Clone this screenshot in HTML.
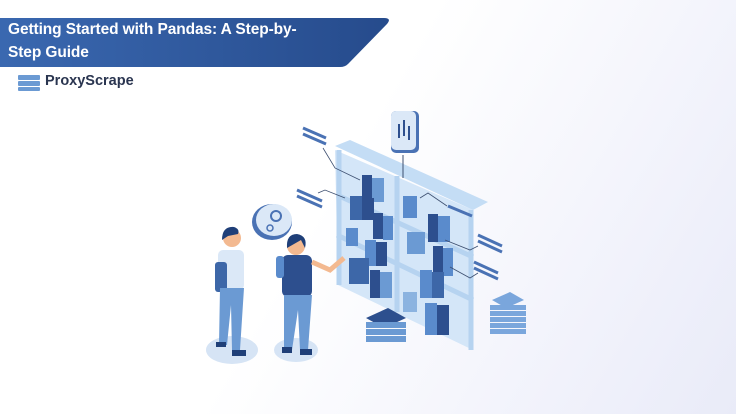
<!DOCTYPE html>
<html><head><meta charset="utf-8"><style>
html,body{margin:0;padding:0}
body{width:736px;height:414px;overflow:hidden;position:relative;font-family:"Liberation Sans",sans-serif;background:linear-gradient(120deg,#ffffff 0%,#ffffff 45%,#f1f2fb 80%,#e9ebf8 100%)}
.t{position:absolute;left:8px;color:#fff;font-weight:bold;font-size:15.5px;letter-spacing:-0.1px}
.logo{position:absolute;left:45px;top:73px;font-weight:bold;font-size:14.5px;color:#2a3550}
</style></head><body>
<svg width="736" height="414" style="position:absolute;left:0;top:0">
<defs><linearGradient id="b" x1="0" x2="1"><stop offset="0" stop-color="#3a68b0"/><stop offset="1" stop-color="#264b8c"/></linearGradient></defs>
<path d="M0 18 H384 Q392 18 387 24 L348 64 Q345 67 340 67 H0Z" fill="url(#b)"/>
<g fill="#6b9ad3"><rect x="18" y="75" width="22" height="5" rx="1"/><rect x="18" y="81" width="22" height="5" rx="1"/><rect x="18" y="87" width="22" height="4" rx="1"/></g>
<ellipse cx="232" cy="350" rx="26" ry="14" fill="#d6e4f5"/><ellipse cx="296" cy="350" rx="22" ry="12" fill="#d6e4f5"/>
<polygon points="335,150 473,210 473,350 338,285" fill="#d4e6f8"/>
<polygon points="335,146 350,140 488,202 473,210" fill="#c4ddf5"/>
<g stroke="#b6d3f0" stroke-width="5" fill="none">
<line x1="337" y1="195" x2="473" y2="257"/><line x1="337" y1="235" x2="473" y2="300"/><line x1="397" y1="176" x2="397" y2="312"/>
<line x1="339" y1="150" x2="339" y2="285"/><line x1="471" y1="210" x2="471" y2="350"/></g>
<g fill="#3d67a8">
<rect x="362" y="175" width="10" height="26" fill="#2d4f8e"/><rect x="372" y="178" width="12" height="24" fill="#6b9ad3"/>
<rect x="350" y="196" width="12" height="24"/><rect x="362" y="198" width="12" height="22" fill="#2d4f8e"/>
<rect x="373" y="213" width="10" height="26" fill="#2d4f8e"/><rect x="383" y="216" width="10" height="24" fill="#5a8bcc"/>
<rect x="346" y="228" width="12" height="18" fill="#5a8bcc"/>
<rect x="365" y="240" width="11" height="26" fill="#5a8bcc"/><rect x="376" y="242" width="11" height="24" fill="#2d4f8e"/>
<rect x="349" y="258" width="20" height="26"/><rect x="370" y="270" width="10" height="28" fill="#2d4f8e"/><rect x="380" y="272" width="12" height="26" fill="#6b9ad3"/>
<rect x="403" y="196" width="14" height="22" fill="#5a8bcc"/><rect x="428" y="214" width="10" height="28" fill="#2d4f8e"/><rect x="438" y="216" width="12" height="26" fill="#5a8bcc"/>
<rect x="407" y="232" width="18" height="22" fill="#6b9ad3"/>
<rect x="433" y="246" width="10" height="30" fill="#2d4f8e"/><rect x="443" y="248" width="10" height="28" fill="#5a8bcc"/>
<rect x="420" y="270" width="12" height="28" fill="#5a8bcc"/><rect x="432" y="272" width="12" height="26"/>
<rect x="403" y="292" width="14" height="20" fill="#8bb3e0"/><rect x="425" y="303" width="12" height="32" fill="#5a8bcc"/><rect x="437" y="305" width="12" height="30" fill="#2d4f8e"/></g>
<g fill="#2d4f8e"><polygon points="366,318 388,308 406,318 384,328"/></g>
<g fill="#6b9ad3"><rect x="366" y="322" width="40" height="6"/><rect x="366" y="329" width="40" height="6"/><rect x="366" y="336" width="40" height="6"/></g>
<g fill="#7aa6dc"><polygon points="492,300 510,292 524,300 506,308"/><rect x="490" y="305" width="36" height="5"/><rect x="490" y="311" width="36" height="5"/><rect x="490" y="317" width="36" height="5"/><rect x="490" y="323" width="36" height="5"/><rect x="490" y="329" width="36" height="5"/></g>
<rect x="391" y="111" width="28" height="42" rx="5" fill="#4a72b4"/><rect x="391" y="111" width="25" height="39" rx="5" fill="#dbe8f7"/>
<g fill="#2d4f8e"><rect x="398" y="124" width="2" height="14"/><rect x="403" y="120" width="2" height="16"/><rect x="408" y="126" width="2" height="14"/></g>
<line x1="403" y1="155" x2="403" y2="178" stroke="#3d4f70"/>
<g stroke="#3d4f70" stroke-width="0.8" fill="none"><polyline points="323,148 335,168 360,180"/><polyline points="318,193 325,190 345,198"/><polyline points="420,198 428,193 447,206"/><polyline points="445,240 470,250 478,246"/><polyline points="450,267 470,278 478,273"/></g>
<g stroke="#4a72b4" stroke-width="3"><line x1="303" y1="128" x2="326" y2="138"/><line x1="303" y1="134" x2="326" y2="144"/><line x1="297" y1="190" x2="322" y2="201"/><line x1="297" y1="196" x2="322" y2="207"/><line x1="448" y1="206" x2="472" y2="216"/><line x1="478" y1="235" x2="502" y2="246"/><line x1="478" y1="241" x2="502" y2="252"/><line x1="474" y1="262" x2="498" y2="273"/><line x1="474" y1="268" x2="498" y2="279"/></g>
<ellipse cx="272" cy="222" rx="20" ry="18" fill="#4a72b4"/><ellipse cx="274" cy="220" rx="18" ry="16" fill="#dbe8f7"/>
<circle cx="276" cy="216" r="5" fill="none" stroke="#4a72b4" stroke-width="2"/><circle cx="270" cy="228" r="3" fill="none" stroke="#4a72b4" stroke-width="1.5"/>
<circle cx="232" cy="238" r="9" fill="#f3b990"/><path d="M222 240 Q222 226 234 227 Q240 229 238 234 L228 236 Z" fill="#1f3f78"/>
<rect x="218" y="250" width="26" height="40" rx="5" fill="#dbe8f7"/><rect x="215" y="262" width="12" height="30" rx="3" fill="#3d67a8"/>
<path d="M220 288 L244 288 L240 350 L232 350 L231 305 L227 345 L219 345 Z" fill="#6b9ad3"/>
<rect x="216" y="342" width="10" height="5" fill="#1f3f78"/><rect x="232" y="350" width="14" height="6" fill="#1f3f78"/>
<circle cx="296" cy="246" r="9" fill="#f3b990"/><path d="M287 248 Q286 234 297 234 Q308 236 305 248 L301 240 Z" fill="#1f3f78"/>
<rect x="282" y="255" width="30" height="42" rx="6" fill="#2d4f8e"/><rect x="276" y="256" width="8" height="22" rx="3" fill="#5a8bcc"/>
<path d="M312 262 L330 270 L344 258" stroke="#f3b990" stroke-width="5" fill="none"/>
<path d="M284 295 L312 295 L308 350 L300 350 L298 310 L292 350 L284 350 Z" fill="#6b9ad3"/>
<rect x="282" y="347" width="10" height="6" fill="#1f3f78"/><rect x="300" y="349" width="12" height="6" fill="#1f3f78"/>
</svg>
<div class="t" style="top:21px">Getting Started with Pandas: A Step-by-</div>
<div class="t" style="top:44px">Step Guide</div>
<div class="logo">ProxyScrape</div>
</body></html>
